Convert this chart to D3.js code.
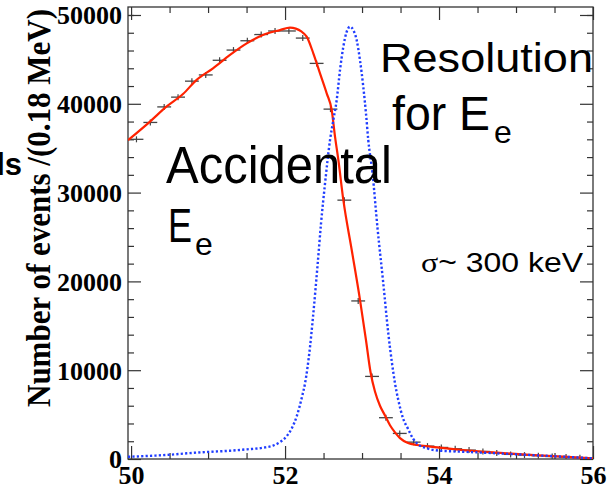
<!DOCTYPE html>
<html lang="en">
<head>
<meta charset="UTF-8">
<title>accidental Ee</title>
<script src="https://d3js.org/d3.v7.min.js"></script>
<style>
  body { margin: 0; background: #fff; }
</style>
</head>
<body>
<div id="chart"></div>
<script>
// measured points, 0.18 MeV bins
var binCenters = [50.07, 50.25, 50.43, 50.61, 50.79, 50.97, 51.15, 51.33, 51.51, 51.69, 51.87,
  52.05, 52.23, 52.41, 52.59, 52.77, 52.95, 53.13, 53.31, 53.49, 53.67, 53.85,
  54.03, 54.21, 54.39, 54.57, 54.75, 54.93, 55.11, 55.29, 55.47, 55.65, 55.83];
var binCounts = [36000, 37900, 39650, 40750, 42550, 43250, 44900, 46050, 47100, 47800, 48200,
  48200, 47400, 44550, 39400, 29150, 17800, 9300, 4650, 2880, 1900, 1450,
  1300, 1150, 1000, 850, 680, 520, 440, 370, 280, 220, 150];
var binWidth = 0.18;

// accidental Ee spectrum (red)
var accE = [49.96, 50.246, 50.463, 50.674, 50.852, 51.064, 51.285, 51.502, 51.713, 51.934, 52.064,
  52.216, 52.281, 52.367, 52.454, 52.541, 52.606, 52.649, 52.692, 52.757, 52.866, 52.974,
  53.051, 53.110, 53.168, 53.233, 53.298, 53.363, 53.428, 53.493, 53.597, 53.714, 53.883,
  54.311, 54.753, 55.181, 55.610, 56.0];
var accN = [35900, 38000, 39700, 41100, 42700, 44000, 45500, 46800, 47750, 48300, 48570,
  48120, 47560, 45690, 43430, 41180, 39300, 36300, 33700, 29170, 23540, 17900,
  13400, 9800, 7600, 6000, 4900, 3800, 3000, 2350, 1800, 1580, 1400,
  1010, 710, 460, 260, 80];

// resolution for Ee (blue dotted)
var resE = [49.96, 50.285, 50.506, 50.726, 51.0, 51.285, 51.506, 51.714, 51.843, 51.934, 52.025,
  52.090, 52.155, 52.220, 52.259, 52.324, 52.363, 52.424, 52.467, 52.519, 52.584, 52.627,
  52.671, 52.714, 52.757, 52.801, 52.844, 52.886, 52.930, 52.973, 53.016, 53.051, 53.081,
  53.136, 53.201, 53.276, 53.341, 53.389, 53.428, 53.471, 53.532, 53.597, 53.662, 53.714,
  53.844, 54.013, 54.311, 54.753, 55.181, 55.610, 56.0];
var resN = [250, 370, 480, 640, 800, 930, 1090, 1270, 1500, 1900, 2600,
  3500, 4900, 7000, 8500, 12600, 16000, 22000, 26500, 31000, 35900, 38180,
  40430, 43810, 46430, 48120, 48680, 48310, 47180, 44930, 41930, 38930, 35920,
  32170, 26000, 19790, 14150, 10800, 8520, 6640, 4600, 3400, 2300, 1750,
  1200, 935, 820, 640, 450, 260, 80];

var xMajor = [50, 52, 54, 56];
var xMinor = [50.5, 51, 51.5, 52.5, 53, 53.5, 54.5, 55, 55.5];
var yMajor = [0, 10000, 20000, 30000, 40000, 50000];
var yMinor = [2000, 4000, 6000, 8000, 12000, 14000, 16000, 18000, 22000, 24000, 26000, 28000,
  32000, 34000, 36000, 38000, 42000, 44000, 46000, 48000, 50000];

var W = 615, H = 489;
var L = 128, R = 593, T = 7, B = 459;

var svg = d3.select("#chart").append("svg")
  .attr("width", W).attr("height", H);

var x = d3.scaleLinear().domain([49.96, 56]).range([L, R]);
var y = d3.scaleLinear().domain([0, 50900]).range([B, T]);

svg.append("clipPath").attr("id", "plot")
  .append("rect").attr("x", L).attr("y", T).attr("width", R - L).attr("height", B - T);

var axisColor = "#333";
var serif = "'Liberation Serif', 'Times New Roman', serif";

// ticks: bottom / top
function styleAxis(g) {
  g.select(".domain").remove();
  g.selectAll(".tick line").attr("stroke", axisColor).attr("stroke-width", 1.2);
}
svg.append("g").attr("transform", "translate(0," + B + ")")
  .call(d3.axisBottom(x).tickValues(xMajor).tickSize(-13).tickPadding(0).tickFormat(d3.format("d")))
  .call(styleAxis)
  .call(function (g) {
    g.selectAll("text")
      .attr("y", 25).attr("dy", 0)
      .attr("fill", "#000")
      .style("font-family", serif)
      .style("font-weight", "bold")
      .style("font-size", "26px");
  });
svg.append("g").attr("transform", "translate(0," + B + ")")
  .call(d3.axisBottom(x).tickValues(xMinor).tickSize(-6).tickFormat(""))
  .call(styleAxis);
svg.append("g").attr("transform", "translate(0," + T + ")")
  .call(d3.axisTop(x).tickValues(xMajor).tickSize(-13).tickFormat(""))
  .call(styleAxis);
svg.append("g").attr("transform", "translate(0," + T + ")")
  .call(d3.axisTop(x).tickValues(xMinor).tickSize(-6).tickFormat(""))
  .call(styleAxis);

// ticks: left / right
svg.append("g").attr("transform", "translate(" + L + ",0)")
  .call(d3.axisLeft(y).tickValues(yMajor).tickSize(-13).tickPadding(0).tickFormat(d3.format("d")))
  .call(styleAxis)
  .call(function (g) {
    g.selectAll("text")
      .attr("x", -6).attr("dy", "0.34em")
      .attr("fill", "#000")
      .style("font-family", serif)
      .style("font-weight", "bold")
      .style("font-size", "26px");
  });
svg.append("g").attr("transform", "translate(" + L + ",0)")
  .call(d3.axisLeft(y).tickValues(yMinor).tickSize(-6).tickFormat(""))
  .call(styleAxis);
svg.append("g").attr("transform", "translate(" + R + ",0)")
  .call(d3.axisRight(y).tickValues(yMajor).tickSize(-13).tickFormat(""))
  .call(styleAxis);
svg.append("g").attr("transform", "translate(" + R + ",0)")
  .call(d3.axisRight(y).tickValues(yMinor).tickSize(-6).tickFormat(""))
  .call(styleAxis);

// frame
svg.append("rect")
  .attr("x", L).attr("y", T).attr("width", R - L).attr("height", B - T)
  .attr("fill", "none").attr("stroke", axisColor).attr("stroke-width", 1.3);

var plot = svg.append("g").attr("clip-path", "url(#plot)");

// data crosses
var pts = binCenters.map(function (c, i) { return [c, binCounts[i]]; });
plot.selectAll("line.hbar").data(pts).enter().append("line")
  .attr("class", "hbar")
  .attr("x1", function (d) { return x(d[0] - binWidth / 2); })
  .attr("x2", function (d) { return x(d[0] + binWidth / 2); })
  .attr("y1", function (d) { return y(d[1]); })
  .attr("y2", function (d) { return y(d[1]); })
  .attr("stroke", "#444").attr("stroke-width", 1.3);
plot.selectAll("line.vbar").data(pts).enter().append("line")
  .attr("class", "vbar")
  .attr("x1", function (d) { return x(d[0]); })
  .attr("x2", function (d) { return x(d[0]); })
  .attr("y1", function (d) { return y(d[1]) - 3; })
  .attr("y2", function (d) { return y(d[1]) + 3; })
  .attr("stroke", "#444").attr("stroke-width", 1.2);

var line = d3.line()
  .x(function (d) { return x(d[0]); })
  .y(function (d) { return y(d[1]); })
  .curve(d3.curveMonotoneX);

// accidental spectrum
plot.append("path")
  .datum(accE.map(function (e, i) { return [e, accN[i]]; }))
  .attr("fill", "none")
  .attr("stroke", "#ff2200")
  .attr("stroke-width", 2.2)
  .attr("d", line);

// resolution
plot.append("path")
  .datum(resE.map(function (e, i) { return [e, resN[i]]; }))
  .attr("fill", "none")
  .attr("stroke", "#1f3dff")
  .attr("stroke-width", 2.4)
  .attr("stroke-dasharray", "2.2,2.2")
  .attr("d", line);

// y title
svg.append("text")
  .attr("transform", "translate(50,208) rotate(-90)")
  .attr("text-anchor", "middle")
  .attr("textLength", 398)
  .attr("lengthAdjust", "spacingAndGlyphs")
  .style("font-family", serif)
  .style("font-weight", "bold")
  .style("font-size", "33px")
  .text("Number of events /(0.18 MeV)");

// annotations
var sans = "'Liberation Sans', Arial, sans-serif";

svg.append("text")
  .attr("x", 22).attr("y", 175)
  .attr("text-anchor", "end")
  .style("font-family", sans).style("font-weight", "bold").style("font-size", "31px")
  .text("ls");

svg.append("text")
  .attr("x", 380).attr("y", 72)
  .attr("textLength", 213).attr("lengthAdjust", "spacingAndGlyphs")
  .style("font-family", sans).style("font-size", "41px")
  .text("Resolution");

var forE = svg.append("text")
  .attr("x", 392).attr("y", 130)
  .style("font-family", sans).style("font-size", "48px");
forE.append("tspan").attr("textLength", 98).attr("lengthAdjust", "spacingAndGlyphs").text("for E");
forE.append("tspan").attr("x", 494).attr("y", 143).style("font-size", "32px").text("e");

svg.append("text")
  .attr("x", 166).attr("y", 183)
  .attr("textLength", 226).attr("lengthAdjust", "spacingAndGlyphs")
  .style("font-family", sans).style("font-size", "51px")
  .text("Accidental");

var accLbl = svg.append("text")
  .attr("x", 168).attr("y", 242)
  .style("font-family", sans).style("font-size", "49px");
accLbl.append("tspan").attr("textLength", 24).attr("lengthAdjust", "spacingAndGlyphs").text("E");
accLbl.append("tspan").attr("x", 195).attr("y", 255).style("font-size", "32px").text("e");

var sig = svg.append("text")
  .attr("x", 421).attr("y", 272)
  .attr("textLength", 162).attr("lengthAdjust", "spacingAndGlyphs")
  .style("font-family", sans).style("font-size", "27px");
sig.append("tspan").style("font-family", "'Liberation Serif', serif").text("σ");
sig.append("tspan").text("~ 300 keV");
</script>
</body>
</html>
